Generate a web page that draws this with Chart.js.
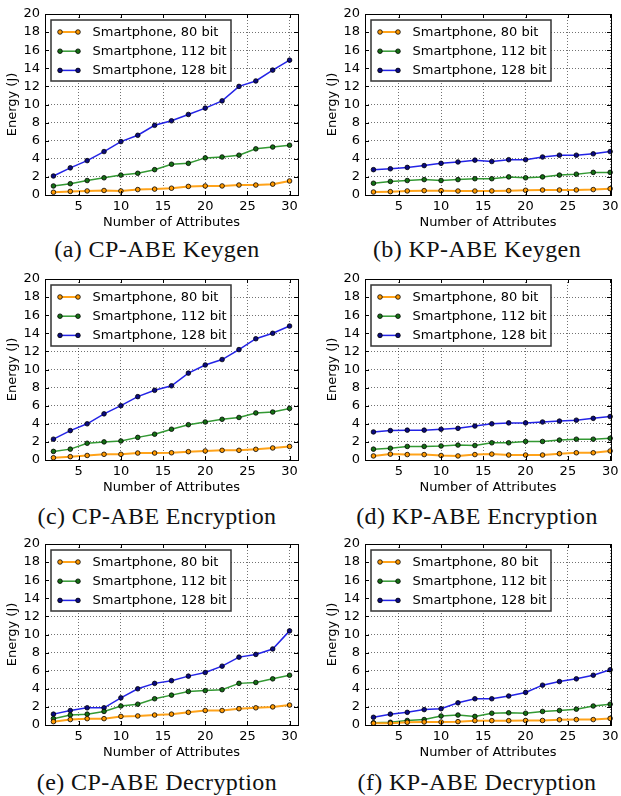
<!DOCTYPE html>
<html>
<head>
<meta charset="utf-8">
<script src="https://cdn.jsdelivr.net/npm/chart.js@4"></script>
<style>
body { margin: 0; background: #fff; }
#fig { position: relative; width: 621px; height: 796px; overflow: hidden; }
canvas { position: absolute; }
.cap { position: absolute; font-family: "Liberation Serif", serif; font-size: 24px; line-height: 24px; letter-spacing: 0.4px; white-space: nowrap; transform: translate(-50%, -50%); color: #111; }
</style>
</head>
<body>
<div id="fig"></div>
<script>
var attrs = [2, 4, 6, 8, 10, 12, 14, 16, 18, 20, 22, 24, 26, 28, 30];
var xTicks = [5, 10, 15, 20, 25, 30];
var yTicks = [0, 2, 4, 6, 8, 10, 12, 14, 16, 18, 20];
var seriesNames = ["Smartphone, 80 bit", "Smartphone, 112 bit", "Smartphone, 128 bit"];

// (a) CP-ABE Keygen
var cpKeygen80  = [0.3, 0.4, 0.45, 0.5, 0.45, 0.6, 0.65, 0.75, 0.95, 1.0, 1.0, 1.1, 1.1, 1.2, 1.55];
var cpKeygen112 = [1.0, 1.25, 1.6, 1.9, 2.2, 2.4, 2.8, 3.4, 3.5, 4.1, 4.2, 4.4, 5.1, 5.3, 5.5];
var cpKeygen128 = [2.1, 3.0, 3.8, 4.8, 5.9, 6.6, 7.7, 8.2, 8.9, 9.6, 10.4, 12.0, 12.6, 13.8, 14.9];
// (b) KP-ABE Keygen
var kpKeygen80  = [0.33, 0.37, 0.45, 0.48, 0.48, 0.44, 0.44, 0.45, 0.48, 0.52, 0.55, 0.55, 0.56, 0.6, 0.7];
var kpKeygen112 = [1.3, 1.5, 1.6, 1.7, 1.6, 1.7, 1.8, 1.8, 2.0, 1.9, 2.0, 2.2, 2.3, 2.5, 2.5];
var kpKeygen128 = [2.8, 2.9, 3.05, 3.25, 3.5, 3.65, 3.85, 3.7, 3.9, 3.9, 4.2, 4.4, 4.4, 4.55, 4.8];
// (c) CP-ABE Encryption
var cpEnc80  = [0.25, 0.37, 0.5, 0.63, 0.63, 0.77, 0.77, 0.8, 0.92, 1.0, 1.07, 1.07, 1.18, 1.33, 1.5];
var cpEnc112 = [0.95, 1.2, 1.85, 2.0, 2.1, 2.5, 2.85, 3.4, 3.9, 4.2, 4.5, 4.7, 5.2, 5.3, 5.7];
var cpEnc128 = [2.3, 3.25, 4.0, 5.1, 6.0, 7.0, 7.7, 8.2, 9.6, 10.5, 11.1, 12.2, 13.4, 14.0, 14.8];
// (d) KP-ABE Encryption
var kpEnc80  = [0.45, 0.65, 0.6, 0.6, 0.5, 0.45, 0.6, 0.65, 0.55, 0.55, 0.55, 0.7, 0.8, 0.8, 1.0];
var kpEnc112 = [1.2, 1.3, 1.5, 1.5, 1.55, 1.65, 1.6, 1.9, 1.9, 2.05, 2.05, 2.2, 2.3, 2.3, 2.4];
var kpEnc128 = [3.1, 3.25, 3.3, 3.3, 3.4, 3.5, 3.75, 4.0, 4.1, 4.1, 4.2, 4.3, 4.4, 4.6, 4.8];
// (e) CP-ABE Decryption
var cpDec80  = [0.37, 0.6, 0.7, 0.7, 0.95, 1.0, 1.1, 1.2, 1.4, 1.6, 1.6, 1.8, 1.9, 2.0, 2.2];
var cpDec112 = [0.7, 1.1, 1.2, 1.5, 2.1, 2.3, 2.9, 3.3, 3.7, 3.8, 3.9, 4.6, 4.7, 5.1, 5.5];
var cpDec128 = [1.2, 1.6, 1.9, 1.9, 3.0, 4.0, 4.6, 4.9, 5.4, 5.8, 6.5, 7.5, 7.8, 8.4, 10.4];
// (f) KP-ABE Decryption
var kpDec80  = [0.2, 0.2, 0.3, 0.33, 0.33, 0.37, 0.48, 0.48, 0.48, 0.5, 0.5, 0.58, 0.6, 0.6, 0.73];
var kpDec112 = [0.25, 0.3, 0.5, 0.6, 1.0, 1.1, 0.95, 1.3, 1.35, 1.3, 1.5, 1.6, 1.75, 2.1, 2.3];
var kpDec128 = [0.85, 1.2, 1.4, 1.7, 1.8, 2.45, 2.9, 2.9, 3.2, 3.6, 4.4, 4.8, 5.1, 5.5, 6.1];

var panels = [
  { cap: "(a) CP-ABE Keygen",     data: [cpKeygen80, cpKeygen112, cpKeygen128], col: 0, row: 0 },
  { cap: "(b) KP-ABE Keygen",     data: [kpKeygen80, kpKeygen112, kpKeygen128], col: 1, row: 0 },
  { cap: "(c) CP-ABE Encryption", data: [cpEnc80, cpEnc112, cpEnc128],          col: 0, row: 1 },
  { cap: "(d) KP-ABE Encryption", data: [kpEnc80, kpEnc112, kpEnc128],          col: 1, row: 1 },
  { cap: "(e) CP-ABE Decryption", data: [cpDec80, cpDec112, cpDec128],          col: 0, row: 2 },
  { cap: "(f) KP-ABE Decryption", data: [kpDec80, kpDec112, kpDec128],          col: 1, row: 2 }
];

var lineColors  = ["#ffa31a", "#339933", "#2323e6"];
var pointColors = ["#ff9900", "#157015", "#0a0a80"];
var lineWidths  = [2, 1.5, 1.5];
var FONT = "DejaVu Sans";

// spines, inward ticks and the in-axes legend
var framePlugin = {
  id: 'frame',
  afterDraw: function(chart) {
    var ctx = chart.ctx, a = chart.chartArea;
    var xs = chart.scales.x, ys = chart.scales.y;
    ctx.save();
    ctx.strokeStyle = '#000';
    ctx.lineWidth = 1;
    xTicks.forEach(function(v) {
      var px = Math.round(xs.getPixelForValue(v)) + 0.5;
      ctx.beginPath();
      ctx.moveTo(px, a.bottom); ctx.lineTo(px, a.bottom - 4);
      ctx.moveTo(px, a.top); ctx.lineTo(px, a.top + 4);
      ctx.stroke();
    });
    yTicks.forEach(function(v) {
      var py = Math.round(ys.getPixelForValue(v)) + 0.5;
      ctx.beginPath();
      ctx.moveTo(a.left, py); ctx.lineTo(a.left + 4, py);
      ctx.moveTo(a.right, py); ctx.lineTo(a.right - 4, py);
      ctx.stroke();
    });
    ctx.strokeRect(Math.round(a.left) + 0.5, Math.round(a.top) + 0.5,
                   Math.round(a.right - a.left), Math.round(a.bottom - a.top));

    // legend
    var bx = a.left + 6, by = a.top + 6;
    ctx.fillStyle = '#fff';
    ctx.fillRect(bx, by, 180, 61);
    ctx.strokeStyle = '#333';
    ctx.lineWidth = 1.5;
    ctx.strokeRect(bx, by, 180, 61);
    ctx.font = '13px "' + FONT + '"';
    ctx.textBaseline = 'middle';
    chart.data.datasets.forEach(function(ds, i) {
      var y = a.top + 18 + i * 19.2;
      var x1 = a.left + 15, x2 = a.left + 33;
      ctx.strokeStyle = ds.borderColor;
      ctx.lineWidth = ds.borderWidth;
      ctx.beginPath(); ctx.moveTo(x1, y); ctx.lineTo(x2, y); ctx.stroke();
      [x1, x2].forEach(function(x) {
        ctx.beginPath();
        ctx.arc(x, y, 2.3, 0, Math.PI * 2);
        ctx.fillStyle = ds.pointBackgroundColor;
        ctx.fill();
        ctx.strokeStyle = '#000';
        ctx.lineWidth = 0.8;
        ctx.stroke();
      });
      ctx.fillStyle = '#000';
      ctx.fillText(ds.label, a.left + 47.5, y + 0.5);
    });
    ctx.restore();
  }
};

var fig = document.getElementById('fig');

panels.forEach(function(p) {
  var left = p.col === 0 ? 0 : 310;
  var width = p.col === 0 ? 310 : 311;
  var top = p.row * 265;
  var cv = document.createElement('canvas');
  cv.width = width; cv.height = 232;
  cv.style.left = left + 'px'; cv.style.top = top + 'px';
  cv.style.width = width + 'px'; cv.style.height = '232px';
  fig.appendChild(cv);

  var cap = document.createElement('div');
  cap.className = 'cap';
  cap.textContent = p.cap;
  cap.style.left = (p.col === 0 ? 157 : 477) + 'px';
  cap.style.top = (249 + p.row * 266.5) + 'px';
  fig.appendChild(cap);

  var datasets = p.data.map(function(vals, i) {
    return {
      label: seriesNames[i],
      data: attrs.map(function(x, k) { return { x: x, y: vals[k] }; }),
      borderColor: lineColors[i],
      borderWidth: lineWidths[i],
      pointBackgroundColor: pointColors[i],
      pointBorderColor: '#000',
      pointBorderWidth: 0.8,
      pointRadius: 2.3,
      tension: 0,
      clip: false
    };
  });

  new Chart(cv, {
    type: 'line',
    data: { datasets: datasets },
    options: {
      responsive: false,
      animation: false,
      devicePixelRatio: 1,
      layout: { padding: { top: 14, left: p.col === 0 ? 0 : 10, right: p.col === 0 ? 12 : 10, bottom: 0 } },
      plugins: { legend: { display: false }, tooltip: { enabled: false } },
      scales: {
        x: {
          type: 'linear',
          min: 1,
          max: p.col === 0 ? 31 : 30.1,
          afterBuildTicks: function(s) { s.ticks = xTicks.map(function(v) { return { value: v }; }); },
          afterFit: function(s) { s.height = 37; s.paddingLeft = 0; s.paddingRight = 0; },
          grid: { color: 'rgba(0,0,0,0.7)', lineWidth: 0.8, drawTicks: false },
          border: { display: false, dash: [1, 2] },
          ticks: { padding: 4, color: '#000', maxRotation: 0, autoSkip: false, font: { family: FONT, size: 13 } },
          title: { display: true, text: 'Number of Attributes', color: '#000', padding: { top: 0, bottom: 2 }, font: { family: FONT, size: 13 } }
        },
        y: {
          min: 0,
          max: 20,
          afterBuildTicks: function(s) { s.ticks = yTicks.map(function(v) { return { value: v }; }); },
          afterFit: function(s) { s.width = 45; },
          grid: { color: 'rgba(0,0,0,0.7)', lineWidth: 0.8, drawTicks: false },
          border: { display: false, dash: [1, 2] },
          ticks: { padding: 5, color: '#000', autoSkip: false, font: { family: FONT, size: 13 } },
          title: { display: true, text: 'Energy (J)', color: '#000', padding: { top: 5, bottom: 0 }, font: { family: FONT, size: 13 } }
        }
      }
    },
    plugins: [framePlugin]
  });
});
</script>
</body>
</html>
